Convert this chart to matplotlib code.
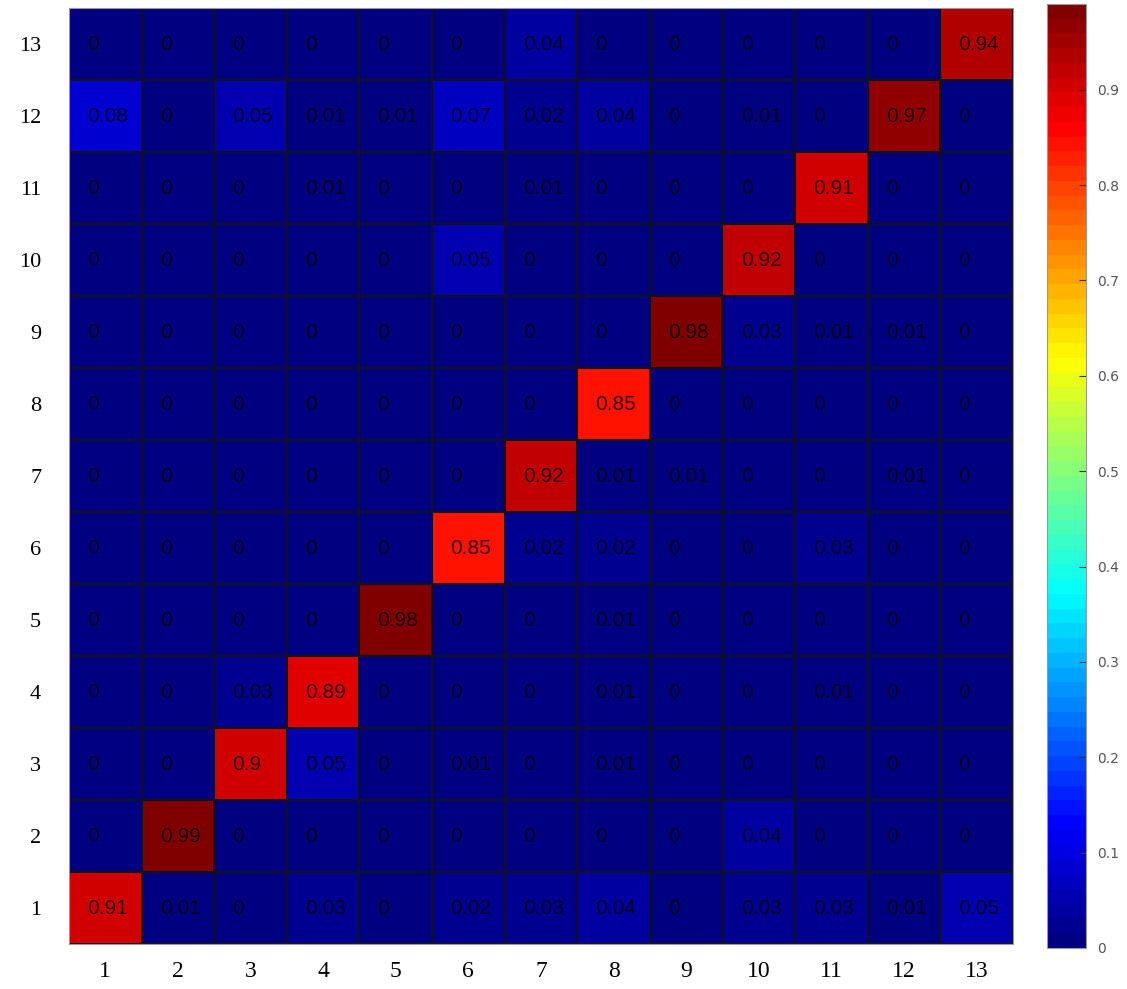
import matplotlib
matplotlib.use("Agg")
import matplotlib.pyplot as plt
import numpy as np
from matplotlib.colors import LinearSegmentedColormap

CLASSES = [str(i) for i in range(1, 14)]

# rows listed from class 1 (bottom) to class 13 (top), columns 1..13
ROW_1 = [0.91, 0.01, 0, 0.03, 0, 0.02, 0.03, 0.04, 0, 0.03, 0.03, 0.01, 0.05]
ROW_2 = [0, 0.99, 0, 0, 0, 0, 0, 0, 0, 0.04, 0, 0, 0]
ROW_3 = [0, 0, 0.9, 0.05, 0, 0.01, 0, 0.01, 0, 0, 0, 0, 0]
ROW_4 = [0, 0, 0.03, 0.89, 0, 0, 0, 0.01, 0, 0, 0.01, 0, 0]
ROW_5 = [0, 0, 0, 0, 0.98, 0, 0, 0.01, 0, 0, 0, 0, 0]
ROW_6 = [0, 0, 0, 0, 0, 0.85, 0.02, 0.02, 0, 0, 0.03, 0, 0]
ROW_7 = [0, 0, 0, 0, 0, 0, 0.92, 0.01, 0.01, 0, 0, 0.01, 0]
ROW_8 = [0, 0, 0, 0, 0, 0, 0, 0.85, 0, 0, 0, 0, 0]
ROW_9 = [0, 0, 0, 0, 0, 0, 0, 0, 0.98, 0.03, 0.01, 0.01, 0]
ROW_10 = [0, 0, 0, 0, 0, 0.05, 0, 0, 0, 0.92, 0, 0, 0]
ROW_11 = [0, 0, 0, 0.01, 0, 0, 0.01, 0, 0, 0, 0.91, 0, 0]
ROW_12 = [0.08, 0, 0.05, 0.01, 0.01, 0.07, 0.02, 0.04, 0, 0.01, 0, 0.97, 0]
ROW_13 = [0, 0, 0, 0, 0, 0, 0.04, 0, 0, 0, 0, 0, 0.94]

matrix = np.array([ROW_1, ROW_2, ROW_3, ROW_4, ROW_5, ROW_6, ROW_7,
                   ROW_8, ROW_9, ROW_10, ROW_11, ROW_12, ROW_13])
n = len(CLASSES)

# MATLAB-style jet (64 steps), a bit redder than matplotlib's jet at the top end
jet_nodes = [(0.0, (0, 0, 0.5)), (0.125, (0, 0, 1)), (0.375, (0, 1, 1)),
             (0.625, (1, 1, 0)), (0.875, (1, 0, 0)), (1.0, (0.5, 0, 0))]
cmap = LinearSegmentedColormap.from_list("matlab_jet", jet_nodes, N=64)

fig = plt.figure(figsize=(11.27, 9.89), dpi=100)
ax = fig.add_axes([0.0612, 0.0455, 0.8376, 0.9464])
cax = fig.add_axes([0.929, 0.0415, 0.0346, 0.9545])

mesh = ax.pcolormesh(np.arange(n + 1) + 0.5, np.arange(n + 1) + 0.5, matrix,
                     cmap=cmap, vmin=0, vmax=matrix.max(),
                     edgecolors="#111111", linewidth=1.1)
ax.set_xlim(0.5, n + 0.5)
ax.set_ylim(0.5, n + 0.5)

for i in range(n):
    for j in range(n):
        label = f"{matrix[i, j]:g}"
        ax.text(j + 1 - 0.25, i + 1, label, ha="left", va="center",
                fontsize=15, family="Liberation Sans", color="black", alpha=0.8)

ax.set_xticks(range(1, n + 1))
ax.set_xticklabels(CLASSES, family="Liberation Serif", fontsize=17)
ax.set_yticks(range(1, n + 1))
ax.set_yticklabels(CLASSES, family="Liberation Serif", fontsize=16)
ax.tick_params(axis="x", length=0, pad=12)
ax.tick_params(axis="y", length=0, pad=20)
for s in ax.spines.values():
    s.set_color("#999999")
    s.set_linewidth(0.8)

cb = fig.colorbar(mesh, cax=cax)
cb.set_ticks(np.arange(0, 1.0, 0.1))
cb.set_ticklabels(["0"] + [f"{t:.1f}" for t in np.arange(0.1, 1.0, 0.1)])
cax.tick_params(direction="in", length=5, color="#333333", labelsize=10,
                labelcolor="#555555", pad=8)
cb.outline.set_edgecolor("#999999")
cb.outline.set_linewidth(0.8)

fig.savefig("out.png", dpi=100)
